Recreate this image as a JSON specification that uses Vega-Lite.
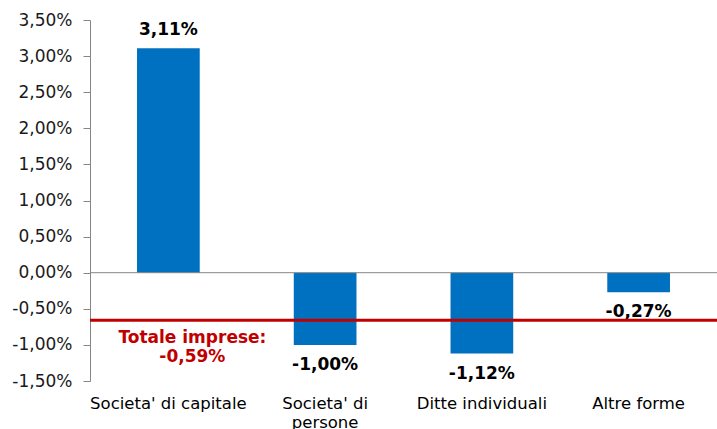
{
  "$schema": "https://vega.github.io/schema/vega-lite/v6.json",
  "autosize": "none",
  "width": 627,
  "height": 361,
  "padding": {"left": 90, "top": 20, "right": 0, "bottom": 48},
  "background": "white",
  "config": {
    "view": {"stroke": null},
    "font": "DejaVu Sans",
    "axisY": {
      "title": null, "grid": false, "labelOverlap": false, "labelFlush": false,
      "domainColor": "#868686", "tickColor": "#868686", "tickSize": 7,
      "labelFont": "DejaVu Sans", "labelFontSize": 17, "labelColor": "#1a1a1a", "labelPadding": 11
    },
    "axisX": {
      "title": null, "domain": false, "ticks": false, "labelAngle": 0,
      "labelFont": "DejaVu Sans", "labelFontSize": 16.5, "labelColor": "#000000",
      "labelPadding": 14, "labelLineHeight": 19
    }
  },
  "datasets": {
    "bars": [
      {"categoria": "Societa' di capitale", "valore": 3.11},
      {"categoria": "Societa' di persone", "valore": -1.00},
      {"categoria": "Ditte individuali", "valore": -1.12},
      {"categoria": "Altre forme", "valore": -0.27}
    ],
    "totale": [
      {"categoria": "Societa' di capitale", "valore": -0.66, "testo": "Totale imprese:\n-0,59%"}
    ]
  },
  "layer": [
    {
      "data": {"name": "bars"},
      "mark": {"type": "bar", "color": "#0070C0"},
      "encoding": {
        "x": {
          "field": "categoria", "type": "nominal", "sort": null, "title": null,
          "scale": {"paddingInner": 0.6, "paddingOuter": 0.3},
          "axis": {
            "labelExpr": "datum.value == \"Societa' di persone\" ? [\"Societa' di\", \"persone\"] : datum.value"
          }
        },
        "y": {
          "field": "valore", "type": "quantitative", "title": null,
          "scale": {"domain": [-1.5, 3.5], "nice": false},
          "axis": {
            "values": [-1.5, -1, -0.5, 0, 0.5, 1, 1.5, 2, 2.5, 3, 3.5],
            "tickCount": 30,
            "labelExpr": "(datum.value < 0 ? '-' : '') + replace(format(abs(datum.value), '.2f'), '.', ',') + '%'"
          }
        }
      }
    },
    {
      "data": {"values": [{"valore": 0}]},
      "mark": {"type": "rule", "color": "#868686", "strokeWidth": 1},
      "encoding": {"y": {"field": "valore", "type": "quantitative", "title": null}}
    },
    {
      "data": {"name": "bars"},
      "transform": [
        {"filter": "datum.valore >= 0"},
        {"calculate": "(datum.valore < 0 ? '-' : '') + replace(format(abs(datum.valore), '.2f'), '.', ',') + '%'", "as": "etichetta"}
      ],
      "mark": {"type": "text", "fontWeight": "bold", "fontSize": 17, "color": "#000000", "baseline": "middle", "dy": -18},
      "encoding": {
        "x": {"field": "categoria", "type": "nominal", "sort": null, "title": null},
        "y": {"field": "valore", "type": "quantitative", "title": null},
        "text": {"field": "etichetta"}
      }
    },
    {
      "data": {"name": "bars"},
      "transform": [
        {"filter": "datum.valore < 0"},
        {"calculate": "(datum.valore < 0 ? '-' : '') + replace(format(abs(datum.valore), '.2f'), '.', ',') + '%'", "as": "etichetta"}
      ],
      "mark": {"type": "text", "fontWeight": "bold", "fontSize": 17, "color": "#000000", "baseline": "middle", "dy": 20},
      "encoding": {
        "x": {"field": "categoria", "type": "nominal", "sort": null, "title": null},
        "y": {"field": "valore", "type": "quantitative", "title": null},
        "text": {"field": "etichetta"}
      }
    },
    {
      "data": {"name": "totale"},
      "mark": {"type": "rule", "color": "#C00000", "strokeWidth": 3},
      "encoding": {"y": {"field": "valore", "type": "quantitative", "title": null}}
    },
    {
      "data": {"name": "totale"},
      "mark": {"type": "text", "fontWeight": "bold", "fontSize": 17, "color": "#C00000", "baseline": "top", "align": "center", "dy": 10, "dx": 24, "lineBreak": "\n", "lineHeight": 19},
      "encoding": {
        "x": {"field": "categoria", "type": "nominal", "sort": null, "title": null},
        "y": {"field": "valore", "type": "quantitative", "title": null},
        "text": {"field": "testo"}
      }
    }
  ]
}
